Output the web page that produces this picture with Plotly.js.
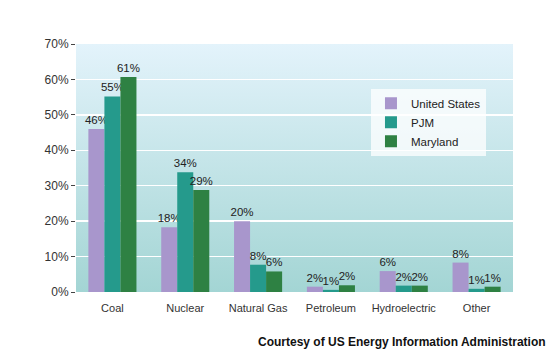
<!DOCTYPE html>
<html><head><meta charset="utf-8">
<script src="https://cdn.plot.ly/plotly-3.0.1.min.js"></script>
<style>html,body{margin:0;padding:0;background:#fff;}#chart{width:550px;height:350px;}</style>
</head><body><div id="chart"></div>
<script>
var categories = ["Coal","Nuclear","Natural Gas","Petroleum","Hydroelectric","Other"];
var usValues = [46, 18.3, 20, 1.5, 5.9, 8.3];
var pjmValues = [55.2, 33.8, 7.7, 0.6, 1.8, 0.9];
var mdValues = [60.7, 28.8, 5.8, 1.9, 1.8, 1.5];
var usLabels = ["46%","18%","20%","2%","6%","8%"];
var pjmLabels = ["55%","34%","8%","1%","2%","1%"];
var mdLabels = ["61%","29%","6%","2%","2%","1%"];
var yTicks = [0,10,20,30,40,50,60,70];
var yTickLabels = ["0%","10%","20%","30%","40%","50%","60%","70%"];

function tr(name, vals, labels, color){
  return {type:"bar", name:name, x:categories, y:vals, text:labels,
    textposition:"outside", cliponaxis:false, constraintext:"none",
    textfont:{family:"Arial, Liberation Sans, sans-serif", size:11.5, color:"#222"},
    marker:{color:color, line:{width:0}}, hoverinfo:"skip"};
}
var data = [
  tr("United States", usValues, usLabels, "#a896cc"),
  tr("PJM", pjmValues, pjmLabels, "#259a8c"),
  tr("Maryland", mdValues, mdLabels, "#2e8143")
];
var grad = 'data:image/svg+xml;utf8,' + encodeURIComponent(
 '<svg xmlns="http://www.w3.org/2000/svg" width="100" height="100" preserveAspectRatio="none"><defs><linearGradient id="g" x1="0" y1="0" x2="0" y2="1"><stop offset="0" stop-color="#e3f3fb"/><stop offset="1" stop-color="#a3d5d4"/></linearGradient></defs><rect width="100" height="100" fill="url(#g)"/></svg>');
var layout = {
  width:550, height:350,
  margin:{l:76, r:37, t:44, b:58},
  paper_bgcolor:"#ffffff", plot_bgcolor:"rgba(0,0,0,0)",
  barmode:"group", bargap:0.34, bargroupgap:0,
  uniformtext:{mode:"show", minsize:11.5},
  font:{family:"Arial, Liberation Sans, sans-serif", size:11, color:"#333"},
  showlegend:true,
  legend:{x:0.675, y:0.82, xanchor:"left", yanchor:"top",
    bgcolor:"rgba(255,255,255,0.75)", borderwidth:0,
    font:{size:11.5, color:"#222"}, itemwidth:30, tracegroupgap:0},
  xaxis:{showgrid:false, zeroline:false, showline:false, ticks:"",
    ticklabelstandoff:8,
    tickfont:{size:11, color:"#333"}, fixedrange:true},
  yaxis:{range:[0,70], tickvals:yTicks, ticktext:yTickLabels,
    showgrid:true, gridcolor:"#ffffff", gridwidth:1.5, zeroline:false,
    showline:false, ticks:"outside", ticklen:4, tickcolor:"#444", tickwidth:1,
    tickfont:{size:12, color:"#333"}, fixedrange:true},
  images:[{source:grad, xref:"paper", yref:"paper", x:0, y:1, sizex:1, sizey:1,
    sizing:"stretch", layer:"below", xanchor:"left", yanchor:"top"}],
  annotations:[{text:"<b>Courtesy of US Energy Information Administration</b>",
    xref:"paper", yref:"paper", x:1.08, y:-0.165, xanchor:"right", yanchor:"top",
    showarrow:false, font:{size:12, color:"#111"}}]
};
Plotly.newPlot("chart", data, layout, {displayModeBar:false, staticPlot:true});
</script></body></html>
